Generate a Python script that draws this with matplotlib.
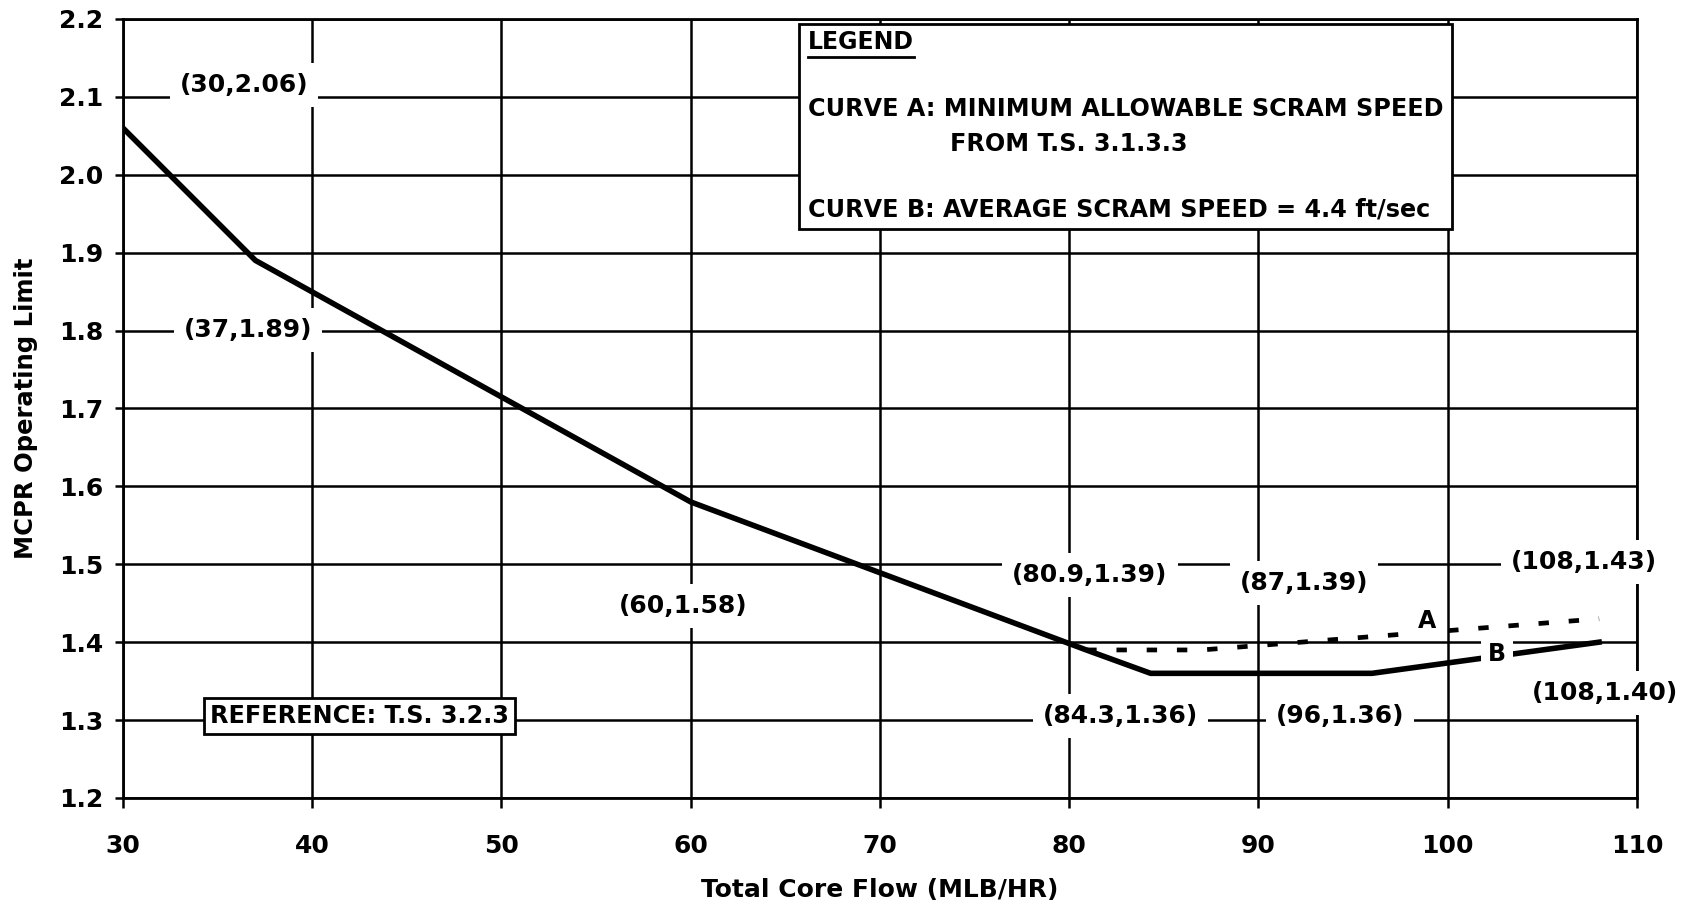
import matplotlib
matplotlib.use("Agg")
import matplotlib.pyplot as plt
from matplotlib.patches import Rectangle

# MCPR operating limit vs total core flow
main_flow = [30, 37, 60, 80.9]
main_mcpr = [2.06, 1.89, 1.58, 1.39]

curve_a_flow = [80.9, 87, 108]
curve_a_mcpr = [1.39, 1.39, 1.43]

curve_b_flow = [80.9, 84.3, 96, 108]
curve_b_mcpr = [1.39, 1.36, 1.36, 1.40]

x_ticks = [30, 40, 50, 60, 70, 80, 90, 100, 110]
y_ticks = [1.2, 1.3, 1.4, 1.5, 1.6, 1.7, 1.8, 1.9, 2.0, 2.1, 2.2]

# where each breakpoint label sits (flow, mcpr)
label_spots = {
    (30, 2.06): (36.4, 2.115),
    (37, 1.89): (36.6, 1.801),
    (60, 1.58): (59.6, 1.447),
    (80.9, 1.39): (81.1, 1.486),
    (87, 1.39): (92.4, 1.476),
    (108, 1.43): (107.2, 1.503),
    (84.3, 1.36): (82.7, 1.305),
    (96, 1.36): (94.3, 1.305),
    (108, 1.40): (108.3, 1.335),
}

plt.rcParams['font.family'] = ['DejaVu Sans']
plt.rcParams['font.weight'] = 'bold'

fig = plt.figure(figsize=(16.89, 9.15), dpi=100)
ax = fig.add_axes([0.0728, 0.1279, 0.8964, 0.8514])

ax.set_xlim(30, 110)
ax.set_ylim(1.2, 2.2)
ax.set_xticks(x_ticks)
ax.set_yticks(y_ticks)
ax.set_yticklabels([f'{v:.1f}' for v in y_ticks])
ax.set_axisbelow(True)
ax.grid(True, color='black', linewidth=1.8)
for side in ax.spines.values():
    side.set_linewidth(2)
ax.tick_params(axis='x', direction='out', length=7, width=1.8, pad=19, labelsize=18)
ax.tick_params(axis='y', direction='out', length=6, width=1.8, pad=8, labelsize=18)

ax.set_xlabel('Total Core Flow (MLB/HR)', fontsize=18, fontweight='bold')
ax.set_ylabel('MCPR Operating Limit', fontsize=17.5, fontweight='bold')
ax.xaxis.set_label_coords(0.5, -0.103)
ax.yaxis.set_label_coords(-0.056, 0.5)

# curves
ax.plot(main_flow + curve_b_flow[1:], main_mcpr + curve_b_mcpr[1:],
        color='black', linewidth=4, solid_joinstyle='round', zorder=2)
ax.plot(curve_a_flow, curve_a_mcpr, color='black', linewidth=3.4,
        dashes=(2.2, 4.2), zorder=2)

white_box = dict(boxstyle='square,pad=0.4', facecolor='white', edgecolor='none')

# breakpoint labels
for (fx, fy), (tx, ty) in label_spots.items():
    ax.text(tx, ty, f'({fx:g},{fy:.2f})', fontsize=18, fontweight='bold',
            ha='center', va='center', bbox=white_box, zorder=4)

ax.text(98.9, 1.427, 'A', fontsize=17, fontweight='bold', ha='center', va='center',
        bbox=dict(boxstyle='square,pad=0.3', facecolor='white', edgecolor='none'), zorder=4)
ax.text(102.6, 1.385, 'B', fontsize=17, fontweight='bold', ha='center', va='center',
        bbox=dict(boxstyle='square,pad=0.3', facecolor='white', edgecolor='none'), zorder=4)

ax.text(42.5, 1.305, 'REFERENCE: T.S. 3.2.3', fontsize=17.2, fontweight='bold',
        ha='center', va='center', zorder=4,
        bbox=dict(boxstyle='square,pad=0.25', facecolor='white', edgecolor='black',
                  linewidth=2))

# legend block
ax.add_patch(Rectangle((65.7, 1.930), 34.5, 0.264, facecolor='white',
                       edgecolor='black', linewidth=2, zorder=3.5))
leg_title = ax.text(66.2, 2.170, 'LEGEND', fontsize=17, fontweight='bold',
                    ha='left', va='center', zorder=4)
ax.text(66.2, 2.085, 'CURVE A: MINIMUM ALLOWABLE SCRAM SPEED', fontsize=17.2,
        fontweight='bold', ha='left', va='center', zorder=4)
ax.text(73.7, 2.040, 'FROM T.S. 3.1.3.3', fontsize=17.2, fontweight='bold',
        ha='left', va='center', zorder=4)
ax.text(66.2, 1.955, 'CURVE B: AVERAGE SCRAM SPEED = 4.4 ft/sec', fontsize=17.2,
        fontweight='bold', ha='left', va='center', zorder=4)

# underline under the legend title
fig.canvas.draw()
bb = leg_title.get_window_extent().transformed(ax.transData.inverted())
ax.plot([bb.x0, bb.x1], [bb.y0 - 0.004, bb.y0 - 0.004], color='black',
        linewidth=2, zorder=4)

fig.savefig('out.png', dpi=100, facecolor='white')
